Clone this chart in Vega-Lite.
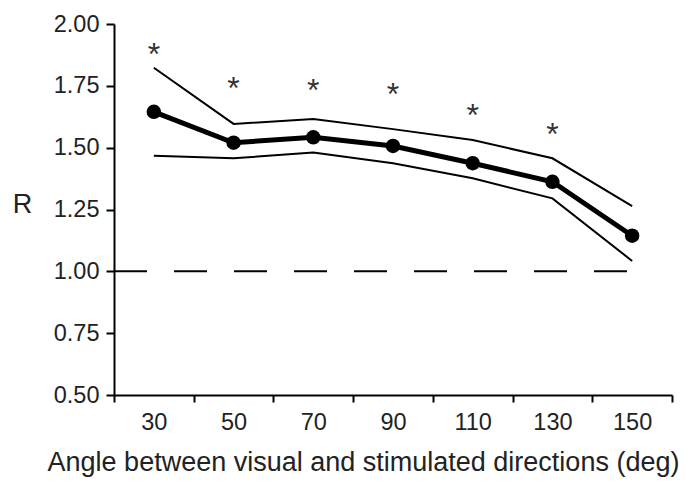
{
  "$schema": "https://vega.github.io/schema/vega-lite/v6.json",
  "width": 558,
  "height": 371,
  "autosize": {"type": "none"},
  "padding": {"left": 114, "top": 24, "right": 14, "bottom": 90},
  "background": "white",
  "config": {
    "view": {"stroke": null},
    "font": "Liberation Sans"
  },
  "datasets": {
    "main": [
      {"angle": 30, "mean": 1.645, "upper": 1.823, "lower": 1.467, "star": 1.908},
      {"angle": 50, "mean": 1.52, "upper": 1.596, "lower": 1.457, "star": 1.770},
      {"angle": 70, "mean": 1.542, "upper": 1.616, "lower": 1.480, "star": 1.760},
      {"angle": 90, "mean": 1.507, "upper": 1.575, "lower": 1.437, "star": 1.744},
      {"angle": 110, "mean": 1.437, "upper": 1.531, "lower": 1.376, "star": 1.662},
      {"angle": 130, "mean": 1.362, "upper": 1.457, "lower": 1.295, "star": 1.585},
      {"angle": 150, "mean": 1.144, "upper": 1.264, "lower": 1.042, "star": null}
    ],
    "ref": [{"x1": 20, "x2": 148.7, "y": 1}]
  },
  "layer": [
    {
      "data": {"name": "ref"},
      "mark": {"type": "rule", "color": "black", "strokeWidth": 2, "strokeDash": [33, 27]},
      "encoding": {
        "x": {"field": "x1", "type": "quantitative", "scale": {"domain": [20, 160], "nice": false, "zero": false}, "axis": null},
        "x2": {"field": "x2"},
        "y": {"field": "y", "type": "quantitative"}
      }
    },
    {
      "data": {"name": "main"},
      "encoding": {
        "x": {
          "field": "angle", "type": "ordinal",
          "scale": {"type": "band", "paddingInner": 0, "paddingOuter": 0},
          "axis": {
            "title": "Angle between visual and stimulated directions (deg)",
            "labelAngle": 0,
            "tickBand": "extent",
            "domainColor": "black", "domainWidth": 2,
            "tickColor": "black", "tickWidth": 2, "tickSize": 7,
            "labelFontSize": 23.5, "labelColor": "#222", "labelPadding": 8, "labelDx": 4,
            "titleFontSize": 27, "titleColor": "#222", "titleFontWeight": "normal",
            "titleX": 249, "titleY": 75, "titleAlign": "center", "titleBaseline": "alphabetic"
          }
        },
        "y": {
          "type": "quantitative",
          "scale": {"domain": [0.5, 2.0], "nice": false, "zero": false},
          "axis": {
            "title": "R",
            "values": [0.5, 0.75, 1.0, 1.25, 1.5, 1.75, 2.0],
            "format": ".2f",
            "grid": false,
            "domainColor": "black", "domainWidth": 2,
            "tickColor": "black", "tickWidth": 2, "tickSize": 8,
            "labelFontSize": 23.5, "labelColor": "#222", "labelPadding": 7,
            "titleFontSize": 27, "titleColor": "#222", "titleFontWeight": "normal",
            "titleAngle": 0, "titleX": -92, "titleY": 188, "titleAlign": "center", "titleBaseline": "alphabetic"
          }
        }
      },
      "layer": [
        {"mark": {"type": "line", "color": "black", "strokeWidth": 2}, "encoding": {"y": {"field": "upper", "type": "quantitative"}}},
        {"mark": {"type": "line", "color": "black", "strokeWidth": 2}, "encoding": {"y": {"field": "lower", "type": "quantitative"}}},
        {"mark": {"type": "line", "color": "black", "strokeWidth": 5}, "encoding": {"y": {"field": "mean", "type": "quantitative"}}},
        {"mark": {"type": "point", "filled": true, "color": "black", "opacity": 1, "size": 210}, "encoding": {"y": {"field": "mean", "type": "quantitative"}}},
        {
          "transform": [{"filter": "datum.star != null"}],
          "mark": {"type": "text", "text": "*", "fontSize": 32, "color": "#333", "baseline": "alphabetic", "dy": 18},
          "encoding": {"y": {"field": "star", "type": "quantitative"}}
        }
      ]
    }
  ],
  "resolve": {"scale": {"x": "independent"}}
}
